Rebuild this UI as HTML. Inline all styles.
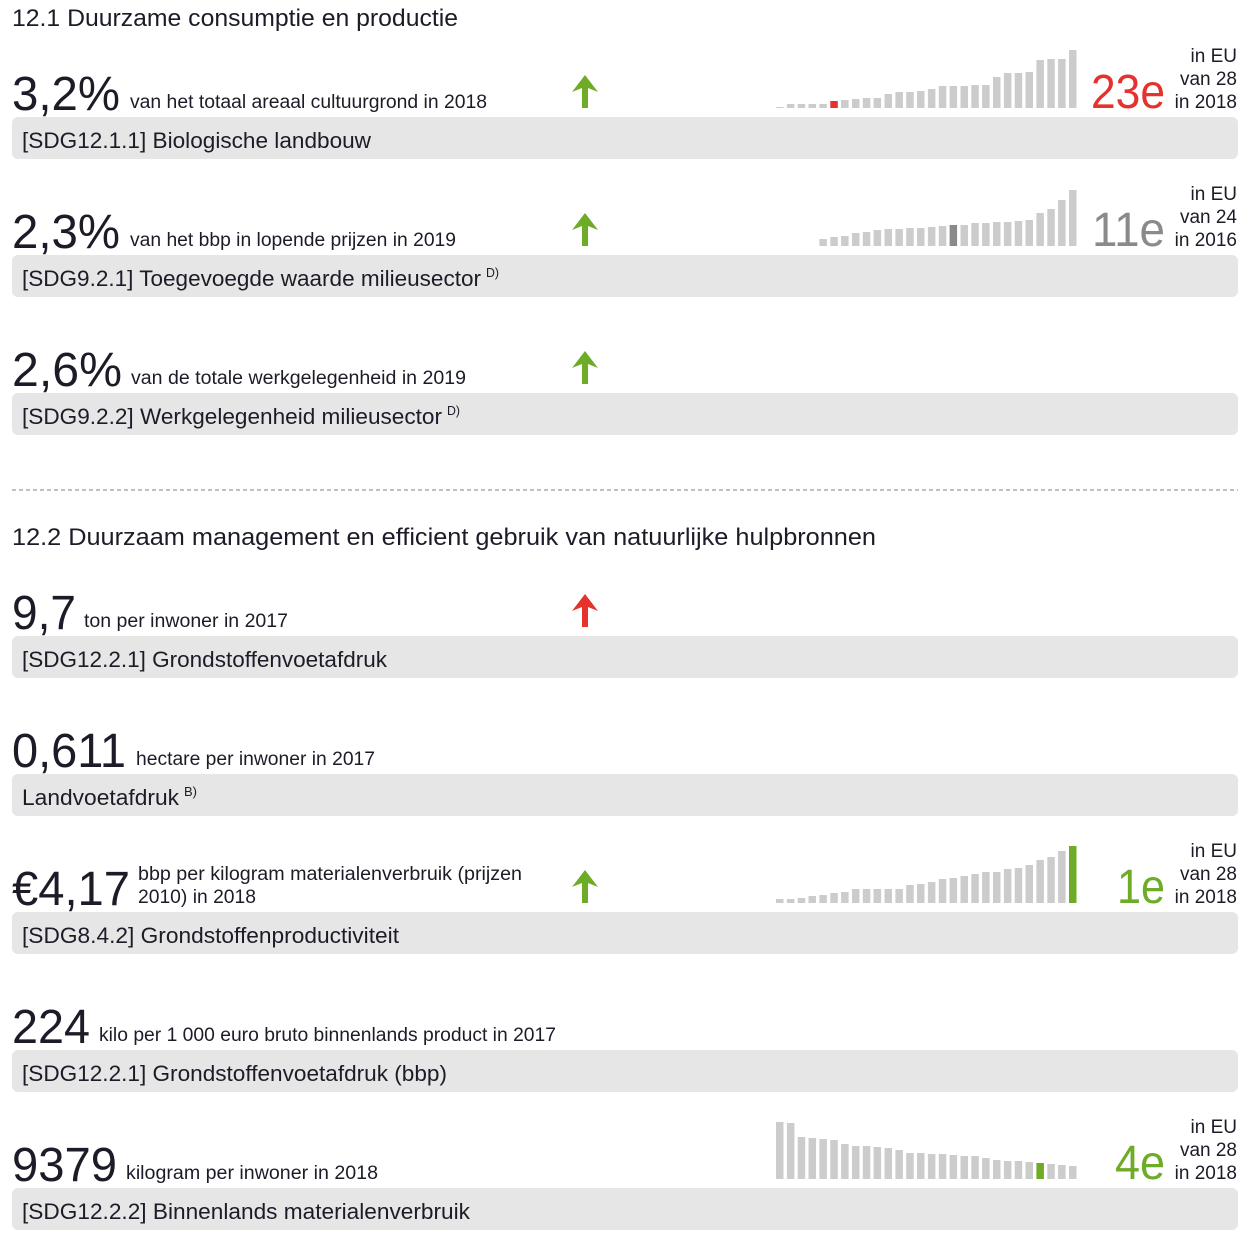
<!DOCTYPE html>
<html><head><meta charset="utf-8"><style>
html,body{margin:0;padding:0;background:#fff;}
svg{display:block;}
text{font-family:"Liberation Sans",sans-serif;fill:#1c1c28;}
</style></head><body>
<svg id="s" width="1253" height="1243" viewBox="0 0 1253 1243" xmlns="http://www.w3.org/2000/svg">
<text x="12" y="26" font-size="24" textLength="446" lengthAdjust="spacingAndGlyphs">12.1 Duurzame consumptie en productie</text>
<line x1="12" y1="490" x2="1238" y2="490" stroke="#9a9a9a" stroke-width="1.2" stroke-dasharray="4,3"/>
<text x="12" y="545" font-size="24" textLength="864" lengthAdjust="spacingAndGlyphs">12.2 Duurzaam management en efficient gebruik van natuurlijke hulpbronnen</text>
<g id="rows"></g>
</svg>
<script>
var NS="http://www.w3.org/2000/svg",g=document.getElementById("rows");
function el(t,a,txt){var e=document.createElementNS(NS,t);for(var k in a)e.setAttribute(k,a[k]);if(txt!=null)e.textContent=txt;g.appendChild(e);return e;}
function tx(x,y,s,w,str,fill,anchor){var a={x:x,y:y,"font-size":s};if(w){a.textLength=w;a.lengthAdjust="spacingAndGlyphs";}if(fill)a.style="fill:"+fill;if(anchor)a["text-anchor"]=anchor;return el("text",a,str);}
var G="#6eab26",R="#e5322d";
function arrow(cx,top,col){el("path",{d:"M"+cx+" "+top+" L"+(cx+13)+" "+(top+17)+" L"+(cx+3)+" "+(top+13)+" L"+(cx+3)+" "+(top+33)+" L"+(cx-3)+" "+(top+33)+" L"+(cx-3)+" "+(top+13)+" L"+(cx-13)+" "+(top+17)+" Z",fill:col});}
var rows=[
{T:117,n:"3,2%",nw:108,s:"van het totaal areaal cultuurgrond in 2018",sx:130,sw:357,l:"[SDG12.1.1] Biologische landbouw",lw:349,a:G},
{T:255,n:"2,3%",nw:108,s:"van het bbp in lopende prijzen in 2019",sx:130,sw:326,l:"[SDG9.2.1] Toegevoegde waarde milieusector",lw:459,sup:"D)",a:G},
{T:393,n:"2,6%",nw:110,s:"van de totale werkgelegenheid in 2019",sx:131,sw:335,l:"[SDG9.2.2] Werkgelegenheid milieusector",lw:420,sup:"D)",a:G},
{T:636,n:"9,7",nw:64,s:"ton per inwoner in 2017",sx:84,sw:204,l:"[SDG12.2.1] Grondstoffenvoetafdruk",lw:365,a:R},
{T:774,n:"0,611",nw:114,s:"hectare per inwoner in 2017",sx:136,sw:239,l:"Landvoetafdruk",lw:157,sup:"B)"},
{T:912,n:"€4,17",nw:118,s:"",l:"[SDG8.4.2] Grondstoffenproductiviteit",lw:377,a:G},
{T:1050,n:"224",nw:78,s:"kilo per 1 000 euro bruto binnenlands product in 2017",sx:99,sw:457,l:"[SDG12.2.1] Grondstoffenvoetafdruk (bbp)",lw:425},
{T:1188,n:"9379",nw:105,s:"kilogram per inwoner in 2018",sx:126,sw:252,l:"[SDG12.2.2] Binnenlands materialenverbruik",lw:448}
];
rows.forEach(function(r){
 el("rect",{x:12,y:r.T,width:1226,height:42,rx:6,fill:"#e6e6e6"});
 tx(12,r.T-7,48,r.nw,r.n);
 if(r.s)tx(r.sx,r.T-9,19,r.sw,r.s);
 tx(22,r.T+31,22,r.lw,r.l);
 if(r.sup)tx(22+r.lw+5,r.T+22,13,13,r.sup);
 if(r.a)arrow(585,r.T-42,r.a);
});
tx(138,880,19,384,"bbp per kilogram materialenverbruik (prijzen");
tx(138,903,19,118,"2010) in 2018");
var x0=776,p=10.85,bw=7.5;
function chart(base,hs,hi,hc,start){start=start||0;hs.forEach(function(h,i){el("rect",{x:(x0+(start+i)*p).toFixed(1),y:base-h,width:bw,height:h,fill:i==hi?hc:"#cccccc"});});}
chart(108,[1,4,4,4,4,7,8,9,10,10,14,16,16,17,19,22,22,22,23,23,31,35,35,36,48,49,49,58],5,R);
chart(246,[7,9,10,13,14,16,17,17,18,18,19,20,21,21,23,23,24,24,25,26,33,37,46,56],12,"#8a8a8a",4);
chart(903,[4,4,5,7,8,10,11,14,14,14,14,14,18,19,21,24,25,27,29,31,31,34,35,38,43,46,52,57],27,G);
chart(1179,[57,56,42,41,40,39,35,33,33,32,31,29,26,26,25,25,24,23,23,21,19,18,18,17,16,15,14,13],24,G);
function rank(T,str,col,w){tx(1165,T-9,48,w,str,col,"end");tx(1237,T-55,19,null,"in EU",null,"end");}
[[117,"23e",R,74,"28","2018"],[255,"11e","#8a8a8a",73,"24","2016"],[912,"1e",G,48,"28","2018"],[1188,"4e",G,50,"28","2018"]].forEach(function(a){
 var T=a[0];tx(1165,T-9,48,a[3],a[1],a[2],"end");
 tx(1237,T-55,19,null,"in EU",null,"end");tx(1237,T-32,19,null,"van "+a[4],null,"end");tx(1237,T-9,19,null,"in "+a[5],null,"end");
});
</script>
</body></html>
